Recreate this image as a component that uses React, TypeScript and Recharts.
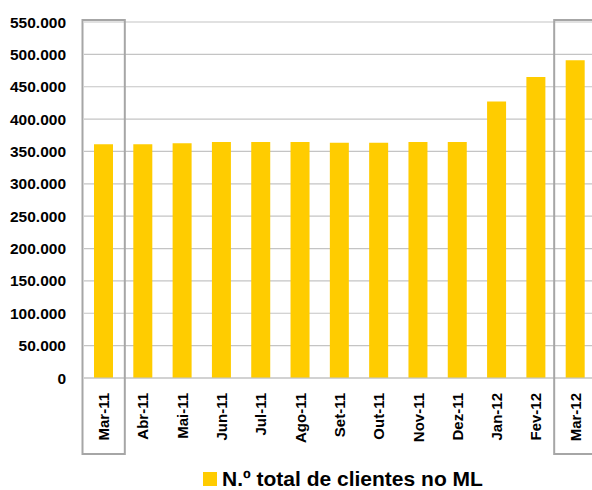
import { BarChart, Bar, XAxis, YAxis, CartesianGrid, Legend } from "recharts";

const months = [
  "Mar-11", "Abr-11", "Mai-11", "Jun-11", "Jul-11", "Ago-11", "Set-11",
  "Out-11", "Nov-11", "Dez-11", "Jan-12", "Fev-12", "Mar-12",
];
const clientes = [
  361000, 361000, 362500, 364500, 364500, 364500, 363500,
  363500, 364500, 364500, 427000, 465000, 491000,
];
const yTicks = [0, 50000, 100000, 150000, 200000, 250000, 300000, 350000, 400000, 450000, 500000, 550000];
const highlighted = ["Mar-11", "Mar-12"];
const seriesName = "N.º total de clientes no ML";

const chartData = months.map((m, i) => ({ mes: m, clientes: clientes[i] }));

const CHART_W = 600;
const CHART_H = 490;
const MARGIN = { top: 22, right: 5, bottom: 0, left: 0 };
const Y_AXIS_W = 84;
const X_AXIS_H = 112;
const PLOT_TOP = MARGIN.top;
const PLOT_BOTTOM = CHART_H - MARGIN.bottom - X_AXIS_H;
const BAND = (CHART_W - MARGIN.left - MARGIN.right - Y_AXIS_W) / months.length;
const FONT = "'Liberation Sans', Arial, sans-serif";

const formatNum = (v: number) =>
  String(v).replace(/\B(?=(\d{3})+(?!\d))/g, ".");

// month labels, plus the grey frame around the two "Mar" columns
const MonthTick = ({ x, payload }: any) => {
  const isHi = highlighted.includes(payload.value);
  const half = BAND / 2 + 1.5;
  return (
    <g>
      {isHi && (
        <rect
          x={x - half}
          y={PLOT_TOP - 2}
          width={half * 2}
          height={PLOT_BOTTOM + 76 - (PLOT_TOP - 2)}
          fill="none"
          stroke="#a6a6a6"
          strokeWidth={2}
        />
      )}
      <text
        transform={`translate(${x},${PLOT_BOTTOM + 15}) rotate(-90)`}
        textAnchor="end"
        dy="0.36em"
        fontSize={15}
        fontWeight="bold"
        fontFamily={FONT}
        fill="#000"
      >
        {payload.value}
      </text>
    </g>
  );
};

const LegendContent = ({ payload }: any) => (
  <div style={{ display: "flex", alignItems: "center", fontFamily: FONT }}>
    {(payload || []).map((p: any, i: number) => (
      <div key={i} style={{ display: "flex", alignItems: "center" }}>
        <span
          style={{
            display: "inline-block",
            width: 14,
            height: 14,
            background: p.color,
            marginRight: 5,
          }}
        />
        <span
          style={{
            fontSize: 21,
            lineHeight: "20px",
            fontWeight: "bold",
            color: "#000",
            whiteSpace: "nowrap",
          }}
        >
          {p.value}
        </span>
      </div>
    ))}
  </div>
);

export default function App() {
  return (
    <div
      style={{
        position: "absolute",
        left: 0,
        top: 0,
        width: 592,
        height: 490,
        overflow: "hidden",
        background: "#fff",
      }}
    >
      <BarChart width={CHART_W} height={CHART_H} data={chartData} margin={MARGIN}>
        <CartesianGrid vertical={false} stroke="#c4c4c4" strokeWidth={1.2} />
        <XAxis
          dataKey="mes"
          height={X_AXIS_H}
          interval={0}
          tickLine={false}
          axisLine={{ stroke: "#c4c4c4", strokeWidth: 1.2 }}
          tick={<MonthTick />}
        />
        <YAxis
          width={Y_AXIS_W}
          domain={[0, 550000]}
          ticks={yTicks}
          interval={0}
          axisLine={false}
          tickLine={false}
          tickSize={6}
          tickMargin={12}
          tickFormatter={formatNum}
          tick={{ fontSize: 15.5, fontWeight: "bold", fill: "#000", fontFamily: FONT }}
        />
        <Legend
          layout="horizontal"
          verticalAlign="middle"
          align="center"
          content={<LegendContent />}
          wrapperStyle={{ top: 469, left: 203, width: 340, height: 20 }}
        />
        <Bar
          dataKey="clientes"
          name={seriesName}
          fill="#FFCC00"
          barSize={19}
          isAnimationActive={false}
        />
      </BarChart>
    </div>
  );
}
